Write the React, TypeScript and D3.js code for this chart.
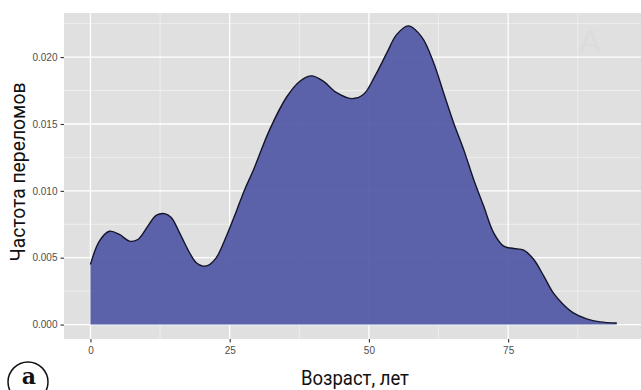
import React, { useEffect, useRef } from 'react';
import * as d3 from 'd3';

// возраст (лет) и оценка плотности
const ages = [
  0, 1.6, 3.4, 5.2, 7.0, 8.5, 10.3, 11.8, 13.3, 14.5, 16.0, 17.8, 19.0, 20.2, 21.4,
  22.6, 24.4, 26.2, 27.7, 29.2, 32.2, 35.2, 37.6, 39.7, 41.8, 44.2, 46.9, 49.0, 51.1,
  53.2, 55.0, 57.1, 59.5, 61.6, 63.4, 65.2, 67.0, 68.8, 70.6, 72.4, 74.2, 76.0, 77.8,
  79.6, 81.4, 83.1, 84.9, 86.7, 89.1, 91.5, 94.5,
];
const density = [
  0.00449, 0.00624, 0.00698, 0.00674, 0.00624, 0.00636, 0.00736, 0.00816, 0.0083, 0.008,
  0.00686, 0.00537, 0.00462, 0.00437, 0.00449, 0.005, 0.00661, 0.00848, 0.0101, 0.0115,
  0.0146, 0.017, 0.0182, 0.0186, 0.0182, 0.01734, 0.0169, 0.0172, 0.0186, 0.0203, 0.0217,
  0.02234, 0.0215, 0.0196, 0.01734, 0.0151, 0.0131, 0.01085, 0.00886, 0.00686, 0.00586,
  0.00569, 0.00556, 0.00487, 0.00362, 0.00237, 0.0015, 0.00087, 0.00042, 0.0002, 0.00012,
];
const xTicks = [0, 25, 50, 75];
const xMinor = [12.5, 37.5, 62.5, 87.5];
const yTicks = [0, 0.005, 0.01, 0.015, 0.02];
const yMinor = [0.0025, 0.0075, 0.0125, 0.0175, 0.0225];
const xTitle = 'Возраст, лет';
const yTitle = 'Частота переломов';
const panelLabel = 'a';

const W = 641;
const H = 390;
const panel = { left: 64, top: 13, right: 646, bottom: 339 };

export default function App() {
  const ref = useRef<SVGSVGElement>(null);

  useEffect(() => {
    const svg = d3.select(ref.current);
    svg.selectAll('*').remove();

    const data = ages.map((a, i) => ({ a, d: density[i] }));

    const x = d3.scaleLinear().domain([-4.75, 99.75]).range([panel.left, panel.right]);
    const y = d3.scaleLinear().domain([-0.00108, 0.0233]).range([panel.bottom, panel.top]);

    // фон панели
    svg.append('rect')
      .attr('x', panel.left).attr('y', panel.top)
      .attr('width', panel.right - panel.left).attr('height', panel.bottom - panel.top)
      .attr('fill', '#e0e0e0');

    // водяной знак
    svg.append('text')
      .attr('x', 590).attr('y', 53)
      .attr('text-anchor', 'middle')
      .attr('font-family', 'Liberation Sans, Arial, sans-serif')
      .attr('font-size', 34)
      .attr('fill', '#dcdcdc')
      .text('A');

    const grid = svg.append('g');
    grid.selectAll('.yminor').data(yMinor).join('line')
      .attr('x1', panel.left).attr('x2', panel.right)
      .attr('y1', (d) => y(d)).attr('y2', (d) => y(d))
      .attr('stroke', '#f4f4f4').attr('stroke-width', 0.7);
    grid.selectAll('.xminor').data(xMinor).join('line')
      .attr('y1', panel.top).attr('y2', panel.bottom)
      .attr('x1', (d) => x(d)).attr('x2', (d) => x(d))
      .attr('stroke', '#f4f4f4').attr('stroke-width', 0.7);
    grid.selectAll('.ymajor').data(yTicks).join('line')
      .attr('x1', panel.left).attr('x2', panel.right)
      .attr('y1', (d) => y(d)).attr('y2', (d) => y(d))
      .attr('stroke', '#ffffff').attr('stroke-width', 1.3);
    grid.selectAll('.xmajor').data([...xTicks, 100]).join('line')
      .attr('y1', panel.top).attr('y2', panel.bottom)
      .attr('x1', (d) => x(d)).attr('x2', (d) => x(d))
      .attr('stroke', '#ffffff').attr('stroke-width', 1.3);

    const curve = d3.curveCatmullRom.alpha(0.5);
    const area = d3.area<{ a: number; d: number }>()
      .x((p) => x(p.a)).y0(y(0)).y1((p) => y(p.d)).curve(curve);
    const line = d3.line<{ a: number; d: number }>()
      .x((p) => x(p.a)).y((p) => y(p.d)).curve(curve);

    svg.append('path').datum(data)
      .attr('d', area)
      .attr('fill', '#5158a6')
      .attr('fill-opacity', 0.93);
    svg.append('path').datum(data)
      .attr('d', line)
      .attr('fill', 'none')
      .attr('stroke', '#15152a')
      .attr('stroke-width', 1.4);

    // оси
    const gx = svg.append('g')
      .attr('transform', `translate(0,${panel.bottom})`)
      .call(d3.axisBottom(x).tickValues(xTicks).tickSize(3.5).tickPadding(4).tickFormat(d3.format('d')));
    const gy = svg.append('g')
      .attr('transform', `translate(${panel.left},0)`)
      .call(d3.axisLeft(y).tickValues(yTicks).tickSize(3.5).tickPadding(3).tickFormat(d3.format('.3f')));
    [gx, gy].forEach((g) => {
      g.select('.domain').remove();
      g.selectAll('.tick line').attr('stroke', '#333').attr('stroke-width', 1.1);
      g.selectAll('.tick text')
        .attr('fill', '#4d4d4d')
        .attr('font-size', 10)
        .attr('font-family', 'Liberation Sans, Arial, sans-serif');
    });

    // подписи осей
    svg.append('text')
      .attr('transform', `translate(25,172) rotate(-90)`)
      .attr('text-anchor', 'middle')
      .attr('font-family', 'Roboto, Noto Sans, sans-serif')
      .attr('font-size', 20)
      .attr('textLength', 179)
      .attr('lengthAdjust', 'spacingAndGlyphs')
      .attr('fill', '#111')
      .text(yTitle);
    svg.append('text')
      .attr('x', 355).attr('y', 385)
      .attr('text-anchor', 'middle')
      .attr('font-family', 'Liberation Sans Narrow, Roboto, sans-serif')
      .attr('font-size', 21)
      .attr('textLength', 108)
      .attr('lengthAdjust', 'spacingAndGlyphs')
      .attr('fill', '#111')
      .text(xTitle);

    // метка панели
    const cx = 28;
    const cy = 382;
    svg.append('circle')
      .attr('cx', cx).attr('cy', cy).attr('r', 20)
      .attr('fill', 'none').attr('stroke', '#111').attr('stroke-width', 1.5);
    svg.append('text')
      .attr('x', cx + 1).attr('y', cy + 2)
      .attr('text-anchor', 'middle')
      .attr('font-family', 'DejaVu Serif, Liberation Serif, serif')
      .attr('font-weight', 'bold')
      .attr('font-size', 22)
      .attr('fill', '#111')
      .text(panelLabel);
  }, []);

  return (
    <svg
      ref={ref}
      width={W}
      height={H}
      style={{ position: 'absolute', left: 0, top: 0, background: '#fff' }}
    />
  );
}
